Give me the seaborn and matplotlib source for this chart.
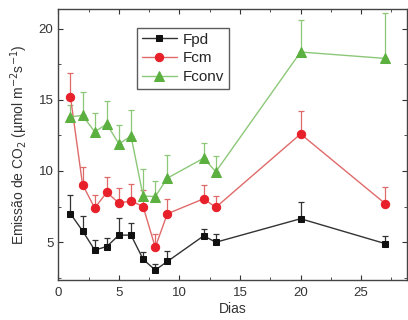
import matplotlib
matplotlib.use('Agg')
import matplotlib.pyplot as plt
import seaborn as sns
import pandas as pd
from matplotlib.ticker import MultipleLocator

# days sampled
dias = [1, 2, 3, 4, 5, 6, 7, 8, 9, 12, 13, 20, 27]

# CO2 emission per treatment (mean) and upper error
fpd = [7.0, 5.8, 4.45, 4.7, 5.5, 5.5, 3.8, 3.05, 3.65, 5.45, 5.0, 6.65, 4.9]
fpd_err = [1.3, 1.05, 0.7, 0.6, 1.2, 0.85, 0.5, 0.4, 0.75, 0.5, 0.6, 1.2, 0.55]
fcm = [15.2, 9.05, 7.4, 8.5, 7.75, 7.9, 7.5, 4.65, 7.0, 8.05, 7.45, 12.6, 7.7]
fcm_err = [1.7, 1.25, 0.95, 1.05, 1.05, 1.2, 1.2, 0.95, 1.0, 0.95, 0.8, 1.6, 1.15]
fconv = [13.8, 13.9, 12.75, 13.3, 11.9, 12.45, 8.25, 8.2, 9.5, 10.9, 9.95, 18.35, 17.9]
fconv_err = [0.85, 1.65, 1.3, 1.6, 1.35, 1.85, 1.9, 1.1, 1.65, 1.1, 1.1, 2.25, 3.2]

series = [
    ('Fpd', fpd, fpd_err, 's', 5.0, '#111111', '#333333'),
    ('Fcm', fcm, fcm_err, 'o', 6.0, '#e8202a', '#e06a6a'),
    ('Fconv', fconv, fconv_err, '^', 6.5, '#5cb040', '#8cc878'),
]

sns.set_style('ticks')
plt.rcParams['font.family'] = ['Liberation Sans', 'DejaVu Sans']

fig = plt.figure(figsize=(4.08, 3.2), dpi=100)
ax = fig.add_axes([0.143, 0.125, 0.855, 0.846])

for name, vals, err, mk, ms, mc, lc in series:
    df = pd.DataFrame({'Dias': dias, 'val': vals})
    ax.errorbar(dias, vals, yerr=[[0] * len(err), err], fmt='none',
                ecolor=lc, elinewidth=0.9, capsize=2.5, capthick=0.9, zorder=1)
    sns.lineplot(data=df, x='Dias', y='val', ax=ax, color=lc, lw=1.0,
                 marker=mk, markersize=ms,
                 markerfacecolor=mc, markeredgecolor=mc, label=name, zorder=2)

ax.set_xlim(0, 28.8)
ax.set_ylim(2.35, 21.35)
ax.xaxis.set_major_locator(MultipleLocator(5))
ax.xaxis.set_minor_locator(MultipleLocator(2.5))
ax.yaxis.set_major_locator(MultipleLocator(5))
ax.yaxis.set_minor_locator(MultipleLocator(2.5))
ax.tick_params(which='both', direction='in', top=True, right=True,
               color='#333333', labelcolor='#333333', labelsize=9.5)
ax.tick_params(axis='x', pad=5)
ax.tick_params(which='major', length=3.5)
ax.tick_params(which='minor', length=2.5)
for s in ax.spines.values():
    s.set_color('#444444')
    s.set_linewidth(1.0)

ax.set_xlabel('Dias', fontsize=10, color='#333333', labelpad=2)
ax.set_ylabel('Emissão de CO$_2$ (µmol m$^{-2}$s$^{-1}$)', fontsize=10,
              color='#333333', labelpad=6)

leg = ax.legend(loc='upper left', bbox_to_anchor=(0.226, 0.93), fontsize=11,
                frameon=True, fancybox=False, handlelength=2.3, borderaxespad=0,
                borderpad=0.3, labelspacing=0.3, handletextpad=0.4)
leg.get_frame().set_edgecolor('#333333')
leg.get_frame().set_linewidth(1.0)

fig.savefig('out.png', dpi=100)
